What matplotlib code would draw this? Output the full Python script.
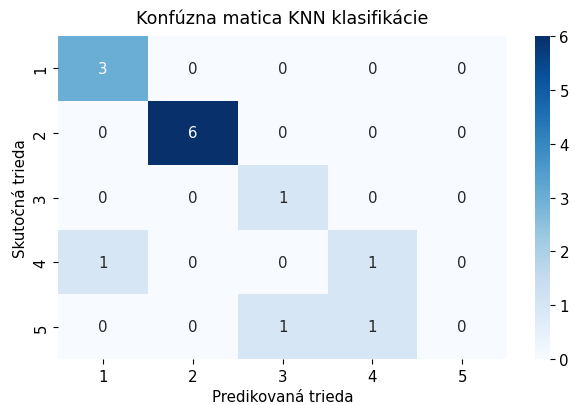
import numpy as np
import matplotlib
matplotlib.use('Agg')
import matplotlib.pyplot as plt
import seaborn as sns

# triedy a konfuzna matica
labels = [1, 2, 3, 4, 5]
cm = np.array([
    [3, 0, 0, 0, 0],
    [0, 6, 0, 0, 0],
    [0, 0, 1, 0, 0],
    [1, 0, 0, 1, 0],
    [0, 0, 1, 1, 0],
])

plt.rcParams['font.size'] = 10.8

fig = plt.figure(figsize=(5.75, 4.06), dpi=100)
# rozlozenie podla predlohy
ax = fig.add_axes([0.101, 0.113, 0.781, 0.796])
cax = fig.add_axes([0.930, 0.113, 0.026, 0.796])
sns.heatmap(cm, annot=True, fmt='d', cmap='Blues',
            xticklabels=labels, yticklabels=labels, ax=ax, cbar_ax=cax)
ax.set_title('Konfúzna matica KNN klasifikácie', fontsize=12.6, pad=9)
ax.set_xlabel('Predikovaná trieda')
ax.set_ylabel('Skutočná trieda')

plt.savefig('out.png', dpi=100)
